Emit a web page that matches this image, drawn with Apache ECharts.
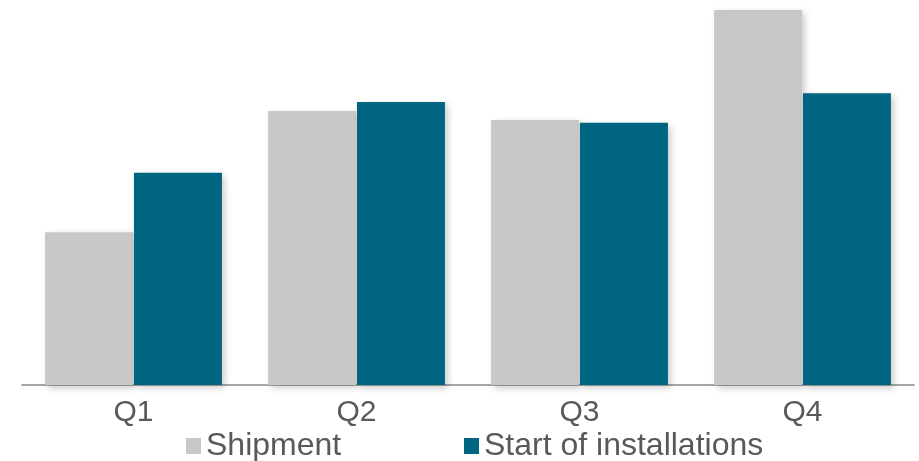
<!DOCTYPE html>
<html>
<head>
<meta charset="utf-8">
<script src="https://cdn.jsdelivr.net/npm/echarts@6/dist/echarts.min.js"></script>
<style>html,body{margin:0;padding:0;background:#fff;}#c{width:919px;height:461px;}</style>
</head>
<body>
<div id="c"></div>
<script>
const categories = ['Q1', 'Q2', 'Q3', 'Q4'];
const shipment = [39.7, 71.2, 68.8, 97.4];
const installations = [55.1, 73.5, 68.1, 75.8];
const seriesNames = ['Shipment', 'Start of installations'];
const colors = ['#C8C8C8', '#006580'];

const chart = echarts.init(document.getElementById('c'));
const font = 'Liberation Sans, Arial, sans-serif';
const shadow = {shadowColor: 'rgba(0,0,0,0.22)', shadowBlur: 7, shadowOffsetX: 3, shadowOffsetY: 3};
const legendText = {fontFamily: font, fontSize: 32, color: '#595959'};
chart.setOption({
  animation: false,
  grid: {left: 22, right: 5, top: 0, bottom: 76},
  legend: [
    {data: [seriesNames[0]], left: 186, top: 430, padding: 0, icon: 'rect', itemWidth: 15, itemHeight: 16, itemGap: 0,
     textStyle: legendText},
    {data: [seriesNames[1]], left: 464, top: 430, padding: 0, icon: 'rect', itemWidth: 15, itemHeight: 16, itemGap: 0,
     textStyle: legendText}
  ],
  xAxis: {
    type: 'category', data: categories,
    axisLine: {lineStyle: {color: '#888888', width: 1.5}},
    axisTick: {show: false},
    axisLabel: {fontFamily: font, fontSize: 30, color: '#595959', margin: 13}
  },
  yAxis: {
    type: 'value', min: 0, max: 100,
    show: false, splitLine: {show: false}
  },
  series: [
    {name: seriesNames[0], type: 'bar', data: shipment, barWidth: 88, barGap: '1%',
     itemStyle: Object.assign({color: colors[0]}, shadow)},
    {name: seriesNames[1], type: 'bar', data: installations, barWidth: 88, barGap: '1%',
     itemStyle: Object.assign({color: colors[1]}, shadow)}
  ]
});
</script>
</body>
</html>
